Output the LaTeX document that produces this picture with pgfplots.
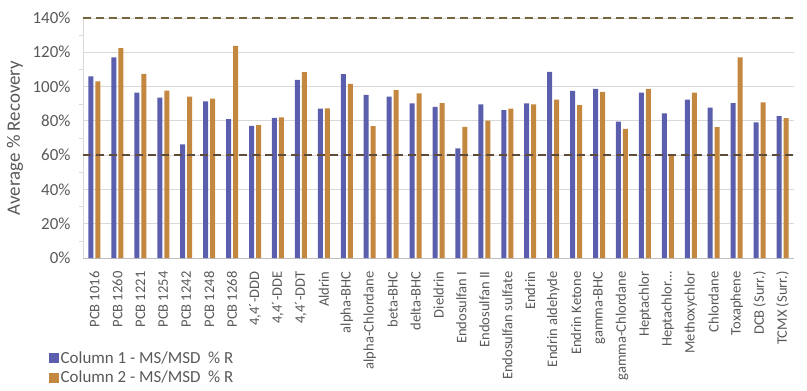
\documentclass[border=0pt]{standalone}
\usepackage{pgfplots}
\usepackage{pgfplotstable}
\pgfplotsset{compat=1.18}
\usepackage{fontspec}
\setmainfont{Carlito}
\definecolor{cA}{HTML}{5A5EAD}
\definecolor{cB}{HTML}{C3873F}
\definecolor{txt}{HTML}{595959}
\definecolor{grd}{HTML}{D9D9D9}
\definecolor{axl}{HTML}{BFBFBF}
\definecolor{limA}{HTML}{76653F}
\definecolor{limB}{HTML}{5E4B39}
\pgfplotstableread{
i a b
0 106.0 103.0
1 117.0 122.5
2 96.5 107.4
3 93.5 97.7
4 66.3 94.1
5 91.4 93.0
6 81.0 123.7
7 77.1 77.5
8 81.8 82.0
9 103.9 108.4
10 87.1 87.3
11 107.2 101.6
12 95.1 76.9
13 94.1 98.0
14 90.2 96.1
15 88.1 90.4
16 64.0 76.5
17 89.6 80.2
18 86.3 87.1
19 90.2 89.6
20 108.6 92.4
21 97.5 89.2
22 98.6 96.9
23 79.5 75.3
24 96.5 98.6
25 84.3 60.3
26 92.4 96.5
27 87.7 76.3
28 90.4 117.0
29 79.1 90.8
30 82.8 81.6
}\data
\begin{document}
\begin{tikzpicture}
\begin{axis}[
  scale only axis, width=711bp, height=240bp,
  xmin=-0.5, xmax=30.5, ymin=0, ymax=140,
  clip=false,
  axis x line*=bottom, axis y line*=left,
  x axis line style={axl, line width=0.8bp},
  y axis line style={grd, line width=0.8bp},
  ytick={0,20,...,140}, minor y tick num=1,
  ymajorgrids, major grid style={grd, line width=0.8bp},
  major tick length=0pt, minor tick length=4bp,
  minor tick style={grd}, tick align=outside,
  /pgf/number format/assume math mode=true,
  yticklabel={\pgfmathprintnumber{\tick}\%},
  yticklabel style={font=\fontsize{17}{20}\selectfont, text=txt, xshift=-9bp},
  xtick={0,...,30},
  xticklabels={PCB 1016,PCB 1260,PCB 1221,PCB 1254,PCB 1242,PCB 1248,PCB 1268,{4,4´-DDD},{4,4´-DDE},{4,4´-DDT},Aldrin,alpha-BHC,alpha-Chlordane,beta-BHC,delta-BHC,Dieldrin,Endosulfan I,Endosulfan II,Endosulfan sulfate,Endrin,Endrin aldehyde,Endrin Ketone,gamma-BHC,gamma-Chlordane,Heptachlor,Heptachlor…,Methoxychlor,Chlordane,Toxaphene,DCB (Surr.),TCMX (Surr.)},
  xticklabel style={yshift=-10bp, rotate=90, anchor=east, font=\fontsize{14.6}{17}\selectfont, text=txt},
  ylabel={Average \% Recovery},
  ylabel style={at={(axis description cs:-0.0956,0.5)}, anchor=center, font=\fontsize{19}{22}\selectfont, text=txt},
  legend style={at={(axis description cs:-0.0478,-0.383)}, anchor=north west, draw=none, fill=none,
    font=\fontsize{17}{20}\selectfont, text=txt, inner sep=0pt, row sep=3bp, nodes={inner sep=1.5bp}},
  legend cell align=left,
]
\coordinate (O) at (rel axis cs:0,0);
\addplot[ybar, bar width=5bp, bar shift=-3.5bp, fill=cA, draw=none,
  legend image code/.code={\fill[cA] (0bp,-5bp) rectangle (10bp,5bp);}] table[x=i,y=a]{\data};
\addlegendentry{Column 1 - MS/MSD~~\% R}
\addplot[ybar, bar width=5bp, bar shift=3.5bp, fill=cB, draw=none,
  legend image code/.code={\fill[cB] (0bp,-5bp) rectangle (10bp,5bp);}] table[x=i,y=b]{\data};
\addlegendentry{Column 2 - MS/MSD~~\% R}
\addplot[sharp plot, forget plot, limA, line width=2bp, dash pattern=on 8bp off 5bp] coordinates {(-0.5,140) (30.5,140)};
\addplot[sharp plot, forget plot, limB, line width=2bp, dash pattern=on 8bp off 5bp] coordinates {(-0.5,60) (30.5,60)};
\end{axis}
\pgfresetboundingbox
\path[use as bounding box] (O) ++(-83bp,-133bp) rectangle ++(807bp,391bp);
\end{tikzpicture}
\end{document}
